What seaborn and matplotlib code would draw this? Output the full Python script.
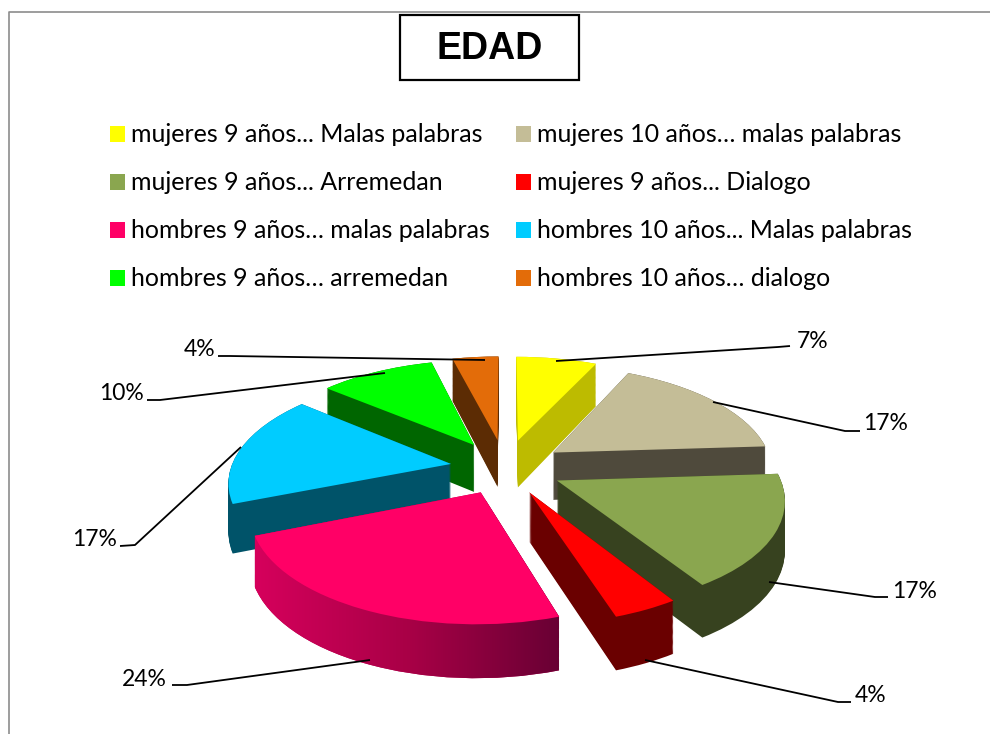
import numpy as np
import matplotlib
matplotlib.use("Agg")
import matplotlib.pyplot as plt
import seaborn as sns
from matplotlib.patches import Rectangle, Patch
from matplotlib.path import Path
from matplotlib.transforms import Transform, IdentityTransform
from matplotlib.colors import LinearSegmentedColormap

categories = ["mujeres 9 años... Malas palabras", "mujeres 10 años… malas palabras",
              "mujeres 9 años... Arremedan", "mujeres 9 años... Dialogo",
              "hombres 9 años… malas palabras", "hombres 10 años... Malas palabras",
              "hombres 9 años… arremedan", "hombres 10 años… dialogo"]
values = [7, 17, 17, 4, 24, 17, 10, 4]
top_colors = ["#FFFF00", "#C4BD97", "#8AA64F", "#FF0000", "#FF0066", "#00CCFF", "#00FF00", "#E36C09"]
side_colors = ["#BDBB00", "#4F4A3C", "#37421F", "#6A0000", "#B8004F", "#005369", "#006600", "#5C2C04"]
explode = [0.28, 0.27, 0.26, 0.25, 0.25, 0.25, 0.27, 0.28]
stack_order = [1, 2, 3, 4, 4, 3, 2, 1]

label_xy = [(813, 342), (886, 424), (915, 591), (871, 695), (144, 680), (95, 539), (121, 393), (200, 350)]
leader = [[(556, 361), (778, 347), (790, 346)], [(713, 402), (845, 431), (860, 431)],
          [(769, 582), (875, 597), (888, 597)], [(645, 660), (838, 702), (851, 702)],
          [(370, 660), (187, 685), (172, 685)], [(241, 447), (135, 545), (120, 546)],
          [(385, 373), (160, 400), (147, 400)], [(485, 360), (230, 356), (218, 356)]]

CX, CY, RX, RY, K, DEPTH = 505.0, 468.0, 220.0, 104.0, 0.15, 48.0


class Perspective(Transform):
    input_dims = output_dims = 2
    is_separable = False
    has_inverse = False

    def __init__(self, drop=0.0):
        super().__init__()
        self.drop = drop

    def transform_non_affine(self, values):
        v = np.asarray(values, dtype=float)
        x, y = v[:, 0], v[:, 1]
        w = 1 + K * y
        return np.column_stack([CX + RX * x / w,
                                CY - RY * y / w + self.drop * (1 - 0.1 * y)])


sns.set_theme(style="white")
plt.rcParams["font.family"] = ["Lato", "DejaVu Sans"]

fig = plt.figure(figsize=(9.9, 7.34), dpi=100)
ax = fig.add_axes([0, 0, 1, 1])


def draw_pie(colors, drop, z):
    wedges, _ = ax.pie(values, explode=explode, colors=colors, startangle=90,
                       counterclock=False, wedgeprops={"linewidth": 0})
    tr = Perspective(drop) + ax.transData
    for w, s in zip(wedges, stack_order):
        w.set_transform(tr)
        w.set_zorder(s * 10 + z)
    return wedges


pink_layers = []
layers = np.arange(DEPTH, -0.5, -1.0)
for i, d in enumerate(layers):
    ws = draw_pie(side_colors, d, 2 * i / len(layers))
    pink_layers.append(ws[4])
draw_pie(top_colors, 0.0, 5)

ax.set_aspect("auto")
ax.set_xlim(0, 990)
ax.set_ylim(734, 0)
ax.set_xticks([])
ax.set_yticks([])
ax.set_frame_on(False)

# shaded rim of the largest slice
clip = Path.make_compound_path(*[w.get_transform().transform_path(w.get_path()) for w in pink_layers])
cmap = LinearSegmentedColormap.from_list("rim", ["#D6005C", "#A80046", "#660033"])
im = ax.imshow(np.linspace(0, 1, 256)[None, :], cmap=cmap, aspect="auto",
               extent=(254, 566, 700, 500), zorder=44, interpolation="bilinear")
im.set_clip_path(clip, IdentityTransform())
ax.set_xlim(0, 990)
ax.set_ylim(734, 0)

# percent labels and leader lines
for v, (tx, ty), pts in zip(values, label_xy, leader):
    xs, ys = zip(*pts)
    ax.plot(xs, ys, color="black", lw=1.3, zorder=60, solid_capstyle="butt")
    ax.text(tx, ty, f"{v}%", ha="center", va="center", fontsize=16.5, color="black", zorder=61)

# title
ax.add_patch(Rectangle((400, 15), 179, 65, facecolor="white", edgecolor="black", lw=1.6, zorder=60))
ax.text(490, 49, "EDAD", ha="center", va="center", fontsize=27, fontweight="bold",
        family="Liberation Sans", color="black", zorder=61)

# chart border
ax.plot([8.5, 8.5, 990], [734, 11.5, 11.5], color="#8C8C8C", lw=1.2, zorder=1)

# legend (filled column by column)
order = [0, 2, 4, 6, 1, 3, 5, 7]
handles = [Patch(facecolor=top_colors[i], edgecolor="none", label=categories[i]) for i in order]
leg = ax.legend(handles=handles, ncol=2, loc="upper left", bbox_to_anchor=(110 / 990, 1 - 123.5 / 734),
                bbox_transform=fig.transFigure, frameon=False, fontsize=18, borderpad=0, borderaxespad=0,
                handlelength=0.6, handleheight=0.6, handletextpad=0.24, columnspacing=1.04,
                labelspacing=1.0, labelcolor="black")
leg.set_zorder(70)

fig.savefig("out.png", dpi=100, facecolor="white")
